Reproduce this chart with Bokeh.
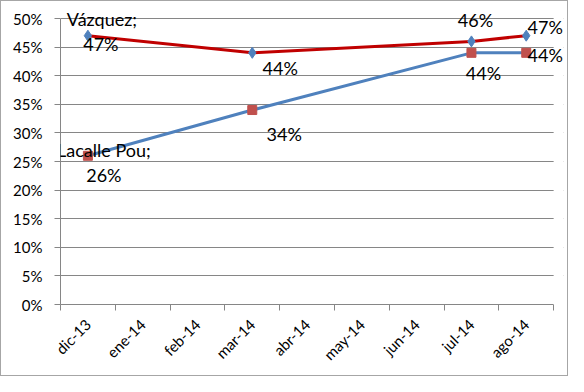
import math
from bokeh.plotting import figure
from bokeh.models import (Range1d, LinearAxis, Label, BoxAnnotation,
                          FixedTicker, NumeralTickFormatter, Grid)
from bokeh.embed import file_html
from bokeh.resources import INLINE

# ---- data ----
months = ["dic-13", "ene-14", "feb-14", "mar-14", "abr-14", "may-14", "jun-14", "jul-14", "ago-14"]
survey_months = ["dic-13", "mar-14", "jul-14", "ago-14"]
vazquez = [0.47, 0.44, 0.46, 0.47]
lacalle = [0.26, 0.34, 0.44, 0.44]
series_names = ["Vázquez", "Lacalle Pou"]
y_ticks = [0.0, 0.05, 0.10, 0.15, 0.20, 0.25, 0.30, 0.35, 0.40, 0.45, 0.50]

# label offsets (screen px, positive = right / up) for each point's value label
v_dx = [13, 28, 4, 19]
v_dy = [-8, -15, 21, 9]
l_dx = [16, 32, 12, 19]
l_dy = [-19, -24, -20, -2]
# offsets of the series-name line attached to the first point
name_dx = [14, 16]
name_dy = [17, 6]

FONT = "Lato"
GRAY = "#868686"

n = len(months)
# each month occupies one unit band; the point sits at the band centre
centers = [i + 0.5 for i in range(n)]
pos = {m: c for m, c in zip(months, centers)}
sx = [pos[m] for m in survey_months]

p = figure(width=568, height=376,
           x_range=Range1d(0, n + 0.18), y_range=Range1d(0, 0.5245),
           x_axis_type=None, y_axis_type=None,
           output_backend="svg", toolbar_location=None,
           min_border_left=59, min_border_right=6,
           min_border_top=3, min_border_bottom=73)
p.outline_line_color = None
p.styles = {"border": "1px solid #a6a6a6"}

# y axis
yaxis = LinearAxis(ticker=FixedTicker(ticks=y_ticks),
                   formatter=NumeralTickFormatter(format="0%"))
yaxis.bounds = (y_ticks[0], y_ticks[-1])
yaxis.axis_line_color = GRAY
yaxis.major_tick_line_color = GRAY
yaxis.major_tick_out = 6
yaxis.major_tick_in = 0
yaxis.minor_tick_line_color = None
yaxis.major_label_standoff = 12
yaxis.major_label_text_font = FONT
yaxis.major_label_text_font_size = "15px"
yaxis.major_label_text_color = "#000000"
p.add_layout(yaxis, "left")

p.add_layout(Grid(dimension=1, ticker=FixedTicker(ticks=y_ticks),
                  grid_line_color=GRAY, grid_line_width=1))

# x axis: tick marks at month boundaries
edge_axis = LinearAxis(ticker=FixedTicker(ticks=list(range(n + 1))))
edge_axis.bounds = (0, n)
edge_axis.axis_line_color = GRAY
edge_axis.major_tick_line_color = GRAY
edge_axis.major_tick_out = 6
edge_axis.major_tick_in = 0
edge_axis.minor_tick_line_color = None
edge_axis.major_label_text_alpha = 0
edge_axis.major_label_text_font_size = "1px"
edge_axis.major_label_standoff = 0
p.add_layout(edge_axis, "below")

# x axis: month names at band centres
cat_axis = LinearAxis(ticker=FixedTicker(ticks=centers),
                      major_label_overrides={c: m for m, c in zip(months, centers)})
cat_axis.axis_line_color = None
cat_axis.major_tick_line_color = None
cat_axis.minor_tick_line_color = None
cat_axis.major_label_orientation = math.pi / 4
cat_axis.major_label_standoff = 5
cat_axis.major_label_text_font = FONT
cat_axis.major_label_text_font_size = "15px"
cat_axis.major_label_text_color = "#000000"
p.add_layout(cat_axis, "below")

# hide gridline overhang right of the last month band
p.add_layout(BoxAnnotation(left=n, fill_color="white", fill_alpha=1.0,
                           line_color=None))

# lines + markers
p.line(sx, vazquez, line_color="#C00000", line_width=3)
p.line(sx, lacalle, line_color="#4F81BD", line_width=3)
p.scatter(sx, vazquez, marker="diamond", size=11,
          fill_color="#4F81BD", line_color="#4F81BD")
p.scatter(sx, lacalle, marker="square", size=9,
          fill_color="#C0504D", line_color="#C0504D")


def pct(v):
    return f"{round(v * 100)}%"


def add_label(x, y, text, dx, dy):
    p.add_layout(Label(x=x, y=y, text=text, x_offset=dx, y_offset=dy,
                       text_font=FONT, text_font_size="18px", text_color="#000000",
                       text_align="center", text_baseline="middle"))


for series, dxs, dys in ((vazquez, v_dx, v_dy), (lacalle, l_dx, l_dy)):
    for x, v, dx, dy in zip(sx, series, dxs, dys):
        add_label(x, v, pct(v), dx, dy)

for name, series, dx, dy in zip(series_names, (vazquez, lacalle), name_dx, name_dy):
    add_label(sx[0], series[0], name + ";", dx, dy)

open("out.html", "w").write(file_html(p, INLINE))
